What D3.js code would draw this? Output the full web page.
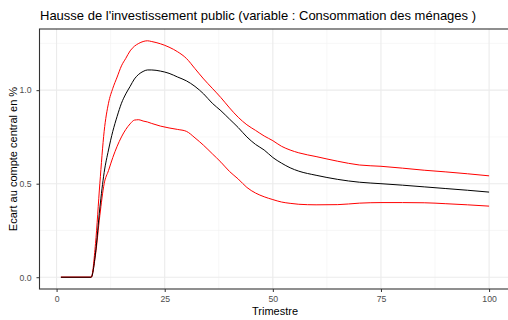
<!DOCTYPE html>
<html lang="fr">
<head>
<meta charset="UTF-8">
<title>Consommation des ménages</title>
<script src="https://cdnjs.cloudflare.com/ajax/libs/d3/7.8.5/d3.min.js"></script>
<style>
	body { margin: 0; background: #fff; }
	text { font-family: "Liberation Sans", Arial, sans-serif; }
</style>
</head>
<body>
<svg id="chart" width="508" height="320"></svg>
<script>
// values
var trimestre = [1, 8, 9, 10, 11, 12, 13, 14, 15, 16, 17, 18, 19, 20, 21, 22, 24, 26, 28, 30, 32, 34, 36, 38, 40, 42, 44, 46, 48, 50, 52, 54, 56, 60, 65, 70, 75, 80, 85, 90, 95, 100];
var central = [0, 0, 0.13, 0.37, 0.56, 0.68, 0.78, 0.86, 0.93, 0.98, 1.02, 1.06, 1.085, 1.10, 1.108, 1.108, 1.102, 1.09, 1.07, 1.05, 1.02, 0.98, 0.93, 0.89, 0.845, 0.80, 0.75, 0.71, 0.68, 0.64, 0.61, 0.585, 0.567, 0.545, 0.523, 0.508, 0.50, 0.492, 0.483, 0.474, 0.465, 0.455];
var borneBasse = [0, 0, 0.12, 0.33, 0.50, 0.57, 0.64, 0.70, 0.75, 0.79, 0.82, 0.84, 0.842, 0.835, 0.83, 0.822, 0.808, 0.798, 0.79, 0.78, 0.745, 0.705, 0.66, 0.615, 0.565, 0.525, 0.48, 0.45, 0.43, 0.415, 0.402, 0.395, 0.39, 0.387, 0.388, 0.396, 0.399, 0.399, 0.398, 0.393, 0.387, 0.38];
var borneHaute = [0, 0, 0.18, 0.50, 0.78, 0.93, 1.01, 1.07, 1.13, 1.17, 1.21, 1.235, 1.25, 1.26, 1.264, 1.26, 1.248, 1.23, 1.205, 1.17, 1.115, 1.06, 1.01, 0.96, 0.905, 0.855, 0.815, 0.785, 0.755, 0.73, 0.70, 0.68, 0.665, 0.645, 0.62, 0.60, 0.593, 0.583, 0.572, 0.563, 0.553, 0.542];
var xTicks = [0, 25, 50, 75, 100];
var yTicks = [0, 0.5, 1.0];

var titre = "Hausse de l'investissement public (variable : Consommation des ménages )";

var svg = d3.select("#chart");
var pLeft = 39.5, pRight = 510.5, pTop = 29, pBottom = 289;

var scX = d3.scaleLinear().domain([-3.95, 104.95]).range([pLeft, pRight]);
var scY = d3.scaleLinear().domain([-0.063, 1.327]).range([pBottom, pTop]);

// minor grid
var xMinor = [12.5, 37.5, 62.5, 87.5];
var yMinor = [0.25, 0.75, 1.25];
svg.append("g").selectAll("line").data(xMinor).enter().append("line")
	.attr("x1", d => scX(d)).attr("x2", d => scX(d))
	.attr("y1", pTop).attr("y2", pBottom)
	.attr("stroke", "#f2f2f2").attr("stroke-width", 0.6);
svg.append("g").selectAll("line").data(yMinor).enter().append("line")
	.attr("x1", pLeft).attr("x2", pRight)
	.attr("y1", d => scY(d)).attr("y2", d => scY(d))
	.attr("stroke", "#f2f2f2").attr("stroke-width", 0.6);

// major grid
svg.append("g").selectAll("line").data(xTicks).enter().append("line")
	.attr("x1", d => scX(d)).attr("x2", d => scX(d))
	.attr("y1", pTop).attr("y2", pBottom)
	.attr("stroke", "#ebebeb").attr("stroke-width", 1.1);
svg.append("g").selectAll("line").data(yTicks).enter().append("line")
	.attr("x1", pLeft).attr("x2", pRight)
	.attr("y1", d => scY(d)).attr("y2", d => scY(d))
	.attr("stroke", "#ebebeb").attr("stroke-width", 1.1);

var pts = trimestre.map((t, i) => ({ t: t, c: central[i], b: borneBasse[i], h: borneHaute[i] }));

var line = d3.line().curve(d3.curveMonotoneX).x(d => scX(d.t));

svg.append("path")
	.attr("fill", "none").attr("stroke", "red").attr("stroke-width", 1)
	.attr("d", line.y(d => scY(d.h))(pts));
svg.append("path")
	.attr("fill", "none").attr("stroke", "red").attr("stroke-width", 1)
	.attr("d", line.y(d => scY(d.b))(pts));
svg.append("path")
	.attr("fill", "none").attr("stroke", "black").attr("stroke-width", 1)
	.attr("d", line.y(d => scY(d.c))(pts));

// panel border
svg.append("rect")
	.attr("x", pLeft).attr("y", pTop)
	.attr("width", pRight - pLeft).attr("height", pBottom - pTop)
	.attr("fill", "none").attr("stroke", "#333").attr("stroke-width", 1.1);

// axes
var xAxis = svg.append("g")
	.attr("transform", "translate(0," + pBottom + ")")
	.call(d3.axisBottom(scX).tickValues(xTicks).tickSize(3).tickPadding(4));
var yAxis = svg.append("g")
	.attr("transform", "translate(" + pLeft + ",0)")
	.call(d3.axisLeft(scY).tickValues(yTicks).tickFormat(d3.format(".1f")).tickSize(3).tickPadding(5));
[xAxis, yAxis].forEach(a => {
	a.select(".domain").remove();
	a.selectAll(".tick line").attr("stroke", "#333");
	a.selectAll(".tick text").attr("fill", "#4d4d4d").style("font-size", "8.7px")
		.style("font-family", "'Liberation Sans', Arial, sans-serif");
});

// titles
svg.append("text")
	.attr("x", 40).attr("y", 19.5)
	.style("font-size", "13px").attr("fill", "#000")
	.text(titre);
svg.append("text")
	.attr("x", (pLeft + pRight) / 2).attr("y", 315)
	.attr("text-anchor", "middle")
	.style("font-size", "11px").attr("fill", "#000")
	.text("Trimestre");
svg.append("text")
	.attr("transform", "translate(17," + (pTop + pBottom) / 2 + ") rotate(-90)")
	.attr("text-anchor", "middle")
	.style("font-size", "11px").attr("fill", "#000")
	.text("Ecart au compte central en %");
</script>
</body>
</html>
